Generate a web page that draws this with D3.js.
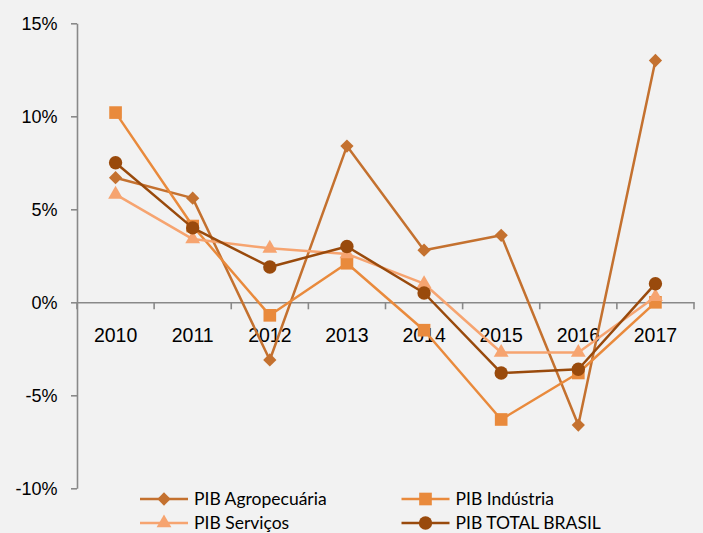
<!DOCTYPE html>
<html><head><meta charset="utf-8">
<script src="https://cdn.jsdelivr.net/npm/d3@7"></script>
<style>
html,body{margin:0;padding:0;background:#F2F2F2;}
svg{display:block;font-family:Lato,"Open Sans",sans-serif;}
</style></head>
<body>
<svg id="chart" width="703" height="533"></svg>
<script>
const years = ["2010","2011","2012","2013","2014","2015","2016","2017"];
const agro = [6.7, 5.6, -3.1, 8.4, 2.8, 3.6, -6.6, 13.0];
const industria = [10.2, 4.1, -0.7, 2.1, -1.5, -6.3, -3.8, 0.0];
const servicos = [5.8, 3.4, 2.9, 2.6, 1.0, -2.7, -2.7, 0.3];
const total = [7.5, 4.0, 1.9, 3.0, 0.5, -3.8, -3.6, 1.0];
const yTicks = [-10, -5, 0, 5, 10, 15];
const seriesNames = ["PIB Agropecuária", "PIB Indústria", "PIB Serviços", "PIB TOTAL BRASIL"];

const series = [
  {name: seriesNames[0], values: agro, color: "#C4712F", symbol: d3.symbolSquare, size: 88, rot: 45},
  {name: seriesNames[1], values: industria, color: "#E98A3C", symbol: d3.symbolSquare, size: 160, rot: 0},
  {name: seriesNames[2], values: servicos, color: "#F6A470", symbol: d3.symbolTriangle, size: 95, rot: 0},
  {name: seriesNames[3], values: total, color: "#994A0C", symbol: d3.symbolCircle, size: 140, rot: 0}
];

const svg = d3.select("#chart");
const x = d3.scaleBand().domain(years).range([77, 694]);
const y = d3.scaleLinear().domain([-10, 15]).range([488.3, 23.3]);
const axisColor = "#898989";

// Y axis
const yAxis = d3.axisLeft(y).tickValues(yTicks).tickSize(6).tickSizeOuter(0)
  .tickFormat(d => d + "%");
const gy = svg.append("g").attr("transform", "translate(77,0)").call(yAxis);
gy.select(".domain").attr("stroke", axisColor).attr("stroke-width", 1.6);
gy.selectAll(".tick line").attr("stroke", axisColor).attr("stroke-width", 1.6);
gy.selectAll(".tick text").attr("fill", "#000").style("font-size", "18px")
  .attr("x", -19.5).attr("dy", "0.36em");

// X axis at 0
const xAxis = d3.axisBottom(x).tickSize(0).tickSizeOuter(0);
const gx = svg.append("g").attr("transform", `translate(0,${y(0)})`).call(xAxis);
gx.select(".domain").attr("stroke", axisColor).attr("stroke-width", 1.6);
gx.selectAll(".tick text").attr("fill", "#000").style("font-size", "19.5px")
  .attr("y", 39.4).attr("dy", 0);
// tick marks at band boundaries
const edges = years.map(d => x(d)).concat([x(years[years.length-1]) + x.bandwidth()]);
gx.selectAll(".edge").data(edges).enter().append("line")
  .attr("x1", d => d).attr("x2", d => d).attr("y1", 0).attr("y2", 7)
  .attr("stroke", axisColor).attr("stroke-width", 1.6);

const cx = d => x(d) + x.bandwidth() / 2;
const line = d3.line().x((v, i) => cx(years[i])).y(v => y(v));

series.forEach(s => {
  const g = svg.append("g");
  g.append("path").datum(s.values).attr("d", line)
    .attr("fill", "none").attr("stroke", s.color).attr("stroke-width", 2.5)
    .attr("stroke-linejoin", "round");
  g.selectAll("path.m").data(s.values).enter().append("path").attr("class", "m")
    .attr("d", d3.symbol().type(s.symbol).size(s.size))
    .attr("transform", (v, i) => `translate(${cx(years[i])},${y(v)}) rotate(${s.rot})`)
    .attr("fill", s.color);
});

// Legend
const legendPos = [
  {lx: 140, ly: 499},
  {lx: 401.5, ly: 499},
  {lx: 140, ly: 523},
  {lx: 401.5, ly: 523}
];
series.forEach((s, i) => {
  const p = legendPos[i];
  const g = svg.append("g").attr("transform", `translate(${p.lx},${p.ly})`);
  g.append("line").attr("x1", 0).attr("x2", 48).attr("y1", 0).attr("y2", 0)
    .attr("stroke", s.color).attr("stroke-width", 2.5);
  g.append("path").attr("d", d3.symbol().type(s.symbol).size(s.size)())
    .attr("transform", `translate(24,0) rotate(${s.rot})`).attr("fill", s.color);
  g.append("text").attr("x", 54).attr("y", 6.3).text(s.name)
    .style("font-size", "17.5px").attr("fill", "#000");
});
</script>
</body></html>
